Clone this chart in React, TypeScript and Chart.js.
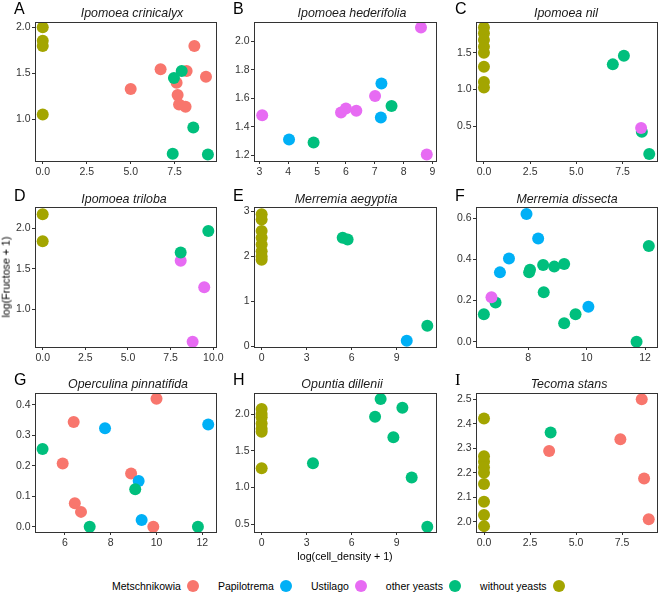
import React, { useEffect, useRef } from 'react';
import { Chart, registerables } from 'chart.js';
Chart.register(...registerables);

// ---------- categories ----------
const GROUPS = ['Metschnikowia', 'Papilotrema', 'Ustilago', 'other yeasts', 'without yeasts'];
const GROUP_KEYS = ['met', 'pap', 'ust', 'other', 'without'];
const GROUP_COLORS = ['#F8766D', '#00B0F6', '#E76BF3', '#00BF7D', '#A3A500'];

// ---------- data: [log(cell_density+1), log(Fructose+1)] ----------
// A Ipomoea crinicalyx
const crinicalyxMet = [[8.62, 1.796], [6.70, 1.542], [8.18, 1.525], [9.28, 1.462], [5.0, 1.327], [7.61, 1.396], [7.67, 1.262], [7.75, 1.16], [8.12, 1.135]];
const crinicalyxOther = [[7.90, 1.525], [7.46, 1.447], [8.56, 0.909], [7.39, 0.622], [9.39, 0.615]];
const crinicalyxWithout = [[0, 2.0], [0, 1.855], [0, 1.796], [0, 1.051]];
// B Ipomoea hederifolia
const hederifoliaUst = [[8.60, 2.099], [3.10, 1.481], [5.83, 1.50], [6.0, 1.528], [6.36, 1.512], [7.01, 1.617], [8.80, 1.204]];
const hederifoliaPap = [[4.03, 1.310], [7.23, 1.704], [7.21, 1.465]];
const hederifoliaOther = [[4.88, 1.289], [7.58, 1.545]];
// C Ipomoea nil
const nilOther = [[6.97, 1.341], [7.57, 1.459], [8.54, 0.423], [8.94, 0.118]];
const nilUst = [[8.50, 0.473]];
const nilWithout = [[0, 1.845], [0, 1.764], [0, 1.673], [0, 1.582], [0, 1.5], [0, 1.309], [0, 1.10], [0, 1.027]];
// D Ipomoea triloba
const trilobaWithout = [[0, 2.173], [0, 1.84]];
const trilobaOther = [[9.71, 1.967], [8.09, 1.70]];
const trilobaUst = [[8.09, 1.60], [9.47, 1.272], [8.79, 0.60]];
// E Merremia aegyptia
const aegyptiaWithout = [[0, 2.93], [0, 2.81], [0, 2.56], [0, 2.41], [0, 2.26], [0, 2.11], [0, 1.99], [0, 1.92]];
const aegyptiaOther = [[5.4, 2.41], [5.73, 2.37], [11.04, 0.457]];
const aegyptiaPap = [[9.67, 0.125]];
// F Merremia dissecta
const dissectaOther = [[6.48, 0.133], [6.88, 0.191], [8.03, 0.337], [8.06, 0.35], [8.51, 0.373], [8.89, 0.365], [9.23, 0.378], [8.53, 0.24], [9.23, 0.089], [9.62, 0.133], [11.71, 0.0], [12.13, 0.465]];
const dissectaPap = [[7.94, 0.621], [8.34, 0.502], [7.34, 0.405], [7.03, 0.337], [10.06, 0.170]];
const dissectaUst = [[6.74, 0.216]];
// G Operculina pinnatifida
const pinnatifidaMet = [[10.0, 0.42], [6.38, 0.344], [5.90, 0.208], [8.89, 0.175], [6.43, 0.077], [6.70, 0.049], [9.86, 0.0]];
const pinnatifidaPap = [[7.75, 0.323], [12.26, 0.336], [9.22, 0.150], [9.35, 0.022]];
const pinnatifidaOther = [[5.02, 0.255], [9.07, 0.123], [7.08, 0.0], [11.81, 0.0]];
// H Opuntia dillenii
const dilleniiWithout = [[0, 2.068], [0, 2.0], [0, 1.955], [0, 1.87], [0, 1.8], [0, 1.76], [0, 1.262]];
const dilleniiOther = [[7.93, 2.204], [7.56, 1.964], [9.38, 2.086], [8.78, 1.683], [10.0, 1.136], [11.04, 0.466], [3.42, 1.33]];
// I Tecoma stans
const stansWithout = [[0, 2.422], [0, 2.268], [0, 2.245], [0, 2.222], [0, 2.2], [0, 2.154], [0, 2.082], [0, 2.027], [0, 1.982]];
const stansOther = [[3.62, 2.365]];
const stansMet = [[3.54, 2.289], [7.41, 2.337], [8.57, 2.5], [8.70, 2.177], [8.95, 2.01]];

// ---------- tick labels ----------
const ticks0to75 = [0, 2.5, 5, 7.5];
const ticks0to10 = [0, 2.5, 5, 7.5, 10];
const ticks3to9 = [3, 4, 5, 6, 7, 8, 9];
const ticks0to9by3 = [0, 3, 6, 9];
const ticks8to12 = [8, 10, 12];
const ticks6to12 = [6, 8, 10, 12];
const yTicksA = [1.0, 1.5, 2.0];
const yTicksB = [1.2, 1.4, 1.6, 1.8, 2.0];
const yTicksC = [0.5, 1.0, 1.5];
const yTicksD = [1.0, 1.5, 2.0];
const yTicksE = [0, 1, 2, 3];
const yTicksF = [0.0, 0.2, 0.4, 0.6];
const yTicksG = [0.0, 0.1, 0.2, 0.3, 0.4];
const yTicksH = [0.5, 1.0, 1.5, 2.0];
const yTicksI = [2.0, 2.1, 2.2, 2.3, 2.4, 2.5];

const X_TITLE = 'log(cell_density + 1)';
const Y_TITLE = 'log(Fructose + 1)';

// ---------- layout (panel frames) ----------
const COL_LEFT = [35, 254, 476];
const COL_RIGHT = [216, 436, 657];
const ROW_TOP = [22, 207, 393];
const ROW_BOTTOM = [161, 347, 532];
const LETTER_OFF = [8.5, 6, 7.7];
const TITLE_OFF = [5.5, 4, 5];

const FONT = '"Liberation Sans", Arial, Helvetica, sans-serif';
const DEFAULT_TOP = ['ust', 'other', 'pap', 'met', 'without'];

const panels = [
  { letter: 'A', title: 'Ipomoea crinicalyx', col: 0, row: 0, titleX: 132, series: { met: crinicalyxMet, other: crinicalyxOther, without: crinicalyxWithout }, xTicks: ticks0to75, yTicks: yTicksA, xDec: 1, yDec: 1, x: [-0.44, 9.85], y: [0.543, 2.058] },
  { letter: 'B', title: 'Ipomoea hederifolia', col: 1, row: 0, titleX: 352, series: { ust: hederifoliaUst, pap: hederifoliaPap, other: hederifoliaOther }, xTicks: ticks3to9, yTicks: yTicksB, xDec: 0, yDec: 1, x: [2.816, 9.12], y: [1.158, 2.138] },
  { letter: 'C', title: 'Ipomoea nil', col: 2, row: 0, titleX: 566, series: { other: nilOther, ust: nilUst, without: nilWithout }, xTicks: ticks0to75, yTicks: yTicksC, xDec: 1, yDec: 1, x: [-0.43, 9.36], y: [0.023, 1.919] },
  { letter: 'D', title: 'Ipomoea triloba', col: 0, row: 1, titleX: 124, series: { without: trilobaWithout, other: trilobaOther, ust: trilobaUst }, top: ['other', 'ust', 'pap', 'met', 'without'], xTicks: ticks0to10, yTicks: yTicksD, xDec: 1, yDec: 1, x: [-0.45, 10.16], y: [0.535, 2.263] },
  { letter: 'E', title: 'Merremia aegyptia', col: 1, row: 1, titleX: 346, series: { without: aegyptiaWithout, other: aegyptiaOther, pap: aegyptiaPap }, xTicks: ticks0to9by3, yTicks: yTicksE, xDec: 0, yDec: 0, x: [-0.51, 11.62], y: [-0.015, 3.09] },
  { letter: 'F', title: 'Merremia dissecta', col: 2, row: 1, titleX: 567, series: { other: dissectaOther, pap: dissectaPap, ust: dissectaUst }, xTicks: ticks8to12, yTicks: yTicksF, xDec: 0, yDec: 1, x: [6.21, 12.41], y: [-0.026, 0.655] },
  { letter: 'G', title: 'Operculina pinnatifida', col: 0, row: 2, titleX: 128, series: { met: pinnatifidaMet, pap: pinnatifidaPap, other: pinnatifidaOther }, xTicks: ticks6to12, yTicks: yTicksG, xDec: 0, yDec: 1, x: [4.69, 12.6], y: [-0.017, 0.439] },
  { letter: 'H', title: 'Opuntia dillenii', col: 1, row: 2, titleX: 342, series: { without: dilleniiWithout, other: dilleniiOther }, xTicks: ticks0to9by3, yTicks: yTicksH, xDec: 0, yDec: 1, x: [-0.51, 11.62], y: [0.395, 2.286] },
  { letter: 'I', title: 'Tecoma stans', col: 2, row: 2, titleX: 569, series: { without: stansWithout, other: stansOther, met: stansMet }, xTicks: ticks0to75, yTicks: yTicksI, xDec: 1, yDec: 1, x: [-0.435, 9.4], y: [1.958, 2.526], serifLetter: true },
];

const Y_W = 40;
const PAD_T = 26;
const PAD_R = 18;
const X_H = 22;

const decorPlugin = {
  id: 'panelDecor',
  afterDatasetsDraw(chart: any, _args: any, opts: any) {
    const { ctx, chartArea: a } = chart;
    ctx.save();
    ctx.strokeStyle = '#333333';
    ctx.lineWidth = 1;
    ctx.strokeRect(a.left + 0.5, a.top + 0.5, a.right - a.left, a.bottom - a.top);
    ctx.fillStyle = '#1a1a1a';
    ctx.textAlign = 'center';
    ctx.textBaseline = 'alphabetic';
    ctx.font = 'italic 12.4px ' + FONT;
    ctx.fillText(opts.title, opts.titleLocalX, a.top - opts.titleOff);
    ctx.textAlign = 'left';
    ctx.fillStyle = '#000000';
    ctx.font = opts.serifLetter ? '16.5px "Liberation Serif", "DejaVu Serif", serif' : '16px ' + FONT;
    ctx.fillText(opts.letter, a.left - 21, a.top - opts.letterOff);
    ctx.restore();
  },
};

function Panel({ p }: { p: any }) {
  const ref = useRef<HTMLCanvasElement>(null);
  const left = COL_LEFT[p.col];
  const right = COL_RIGHT[p.col];
  const top = ROW_TOP[p.row];
  const bottom = ROW_BOTTOM[p.row];
  const cw = Y_W + (right - left) + PAD_R;
  const ch = PAD_T + (bottom - top) + X_H;
  const canvasLeft = left - Y_W;
  const canvasTop = top - PAD_T;

  useEffect(() => {
    if (!ref.current) return;
    const order: string[] = p.top || DEFAULT_TOP;
    const datasets = order
      .filter((k) => p.series[k])
      .map((k) => {
        const gi = GROUP_KEYS.indexOf(k);
        return {
          label: GROUPS[gi],
          data: p.series[k].map((d: number[]) => ({ x: d[0], y: d[1] })),
          backgroundColor: GROUP_COLORS[gi],
          pointBackgroundColor: GROUP_COLORS[gi],
          pointRadius: 6,
          pointHoverRadius: 6,
          pointBorderWidth: 0,
          borderWidth: 0,
          showLine: false,
          clip: 0,
        };
      });
    const tickFont = { family: FONT, size: 10.5 };
    const grid = { drawOnChartArea: false, drawTicks: true, tickLength: 3, color: '#333333', tickColor: '#333333', lineWidth: 1 };
    const chart = new Chart(ref.current, {
      type: 'scatter',
      data: { datasets } as any,
      options: {
        responsive: false,
        animation: false,
        events: [],
        layout: { padding: { left: 0, top: PAD_T, right: PAD_R, bottom: 0 } },
        plugins: {
          legend: { display: false },
          tooltip: { enabled: false },
          panelDecor: {
            title: p.title,
            titleLocalX: p.titleX - canvasLeft,
            titleOff: TITLE_OFF[p.row],
            letter: p.letter,
            letterOff: LETTER_OFF[p.row],
            serifLetter: !!p.serifLetter,
          },
        } as any,
        scales: {
          x: {
            type: 'linear',
            min: p.x[0],
            max: p.x[1],
            bounds: 'data',
            afterBuildTicks: (s: any) => { s.ticks = p.xTicks.map((v: number) => ({ value: v })); },
            afterFit: (s: any) => { s.height = X_H; },
            ticks: { autoSkip: false, maxRotation: 0, padding: 2, color: '#333333', font: tickFont, callback: (v: any) => Number(v).toFixed(p.xDec) },
            grid,
            border: { display: false },
          },
          y: {
            type: 'linear',
            min: p.y[0],
            max: p.y[1],
            bounds: 'data',
            afterBuildTicks: (s: any) => { s.ticks = p.yTicks.map((v: number) => ({ value: v })); },
            afterFit: (s: any) => { s.width = Y_W; },
            ticks: { autoSkip: false, padding: 1.5, color: '#333333', font: tickFont, callback: (v: any) => Number(v).toFixed(p.yDec) },
            grid,
            border: { display: false },
          },
        } as any,
      },
      plugins: [decorPlugin],
    });
    return () => chart.destroy();
  }, []);

  return (
    <canvas
      ref={ref}
      width={cw}
      height={ch}
      style={{ position: 'absolute', left: canvasLeft, top: canvasTop, width: cw, height: ch }}
    />
  );
}

export default function App() {
  return (
    <div style={{ position: 'absolute', left: 0, top: 0, width: 658, height: 593, overflow: 'hidden', background: '#ffffff', fontFamily: FONT }}>
      {panels.map((p) => (
        <Panel key={p.letter} p={p} />
      ))}
      <div style={{ position: 'absolute', left: 345, top: 556, transform: 'translate(-50%, -50%)', fontSize: 10.7, lineHeight: 1, whiteSpace: 'nowrap', color: '#000' }}>
        {X_TITLE}
      </div>
      <div style={{ position: 'absolute', left: 6, top: 277, transform: 'translate(-50%, -50%) rotate(-90deg)', fontSize: 10.7, lineHeight: 1, whiteSpace: 'nowrap', color: '#000' }}>
        {Y_TITLE}
      </div>
      <div style={{ position: 'absolute', left: 112, top: 586, transform: 'translateY(-50%)', display: 'flex', alignItems: 'center', gap: 19, fontSize: 10.5, lineHeight: 1, whiteSpace: 'nowrap', color: '#000' }}>
        {GROUPS.map((g, i) => (
          <div key={g} style={{ display: 'flex', alignItems: 'center' }}>
            <span>{g}</span>
            <span style={{ display: 'inline-block', width: 12, height: 12, borderRadius: 6, background: GROUP_COLORS[i], marginLeft: 6 }} />
          </div>
        ))}
      </div>
    </div>
  );
}
